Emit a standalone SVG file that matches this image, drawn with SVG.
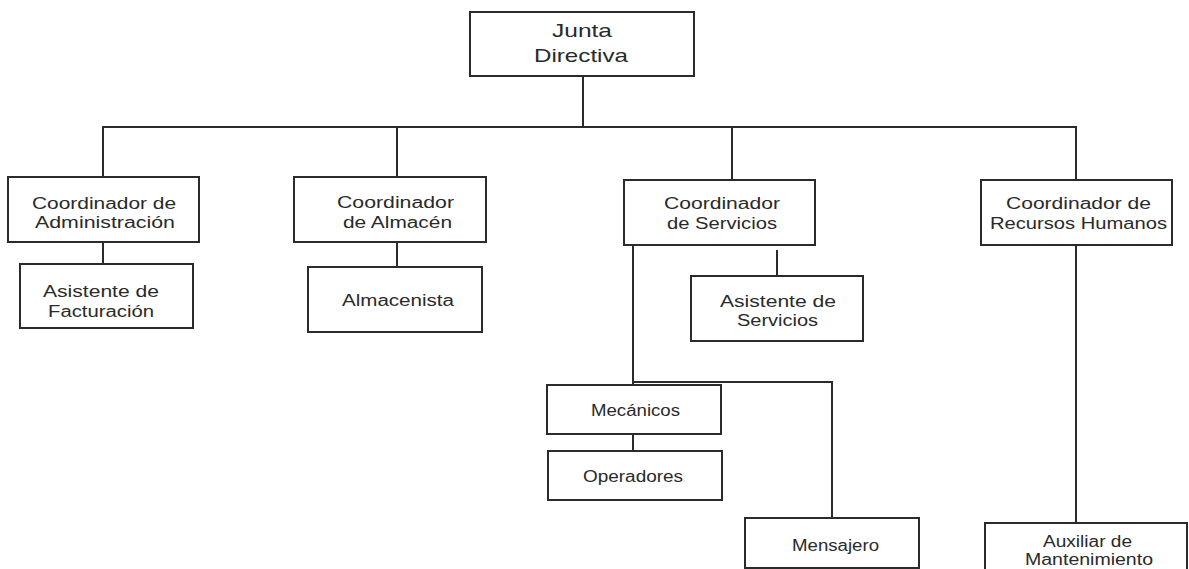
<svg xmlns="http://www.w3.org/2000/svg" width="1189" height="569" viewBox="0 0 1189 569">
<style>
.box{fill:#fff;stroke:#2b2b2b;stroke-width:2}
.ln{fill:none;stroke:#2b2b2b;stroke-width:2}
text{font-family:"Liberation Sans",Arial,sans-serif;font-size:16px;fill:#2a2a2a}
.big{font-size:19px}
</style>
<rect width="1189" height="569" fill="#fff"/>
<g id="connectors">
<path class="ln" d="M583,76 V127 M102,127 H1077 M103,127 V177 M397,127 V177 M732,127 V180 M1076,127 V180"/>
<path class="ln" d="M103,242 V264 M397,242 V267 M777,250 V276"/>
<path class="ln" d="M633,245 V385 M633,382 H832 V518 M633,434 V451"/>
<path class="ln" d="M1076,245 V523"/>
</g>
<g id="junta">
<rect class="box" x="470" y="12" width="224" height="64"/>
<text class="big" x="552" y="37" textLength="60" lengthAdjust="spacingAndGlyphs">Junta</text>
<text class="big" x="534" y="62" textLength="94" lengthAdjust="spacingAndGlyphs">Directiva</text>
</g>
<g id="coord-admin">
<rect class="box" x="8" y="177" width="191" height="65"/>
<text x="32" y="209" textLength="144" lengthAdjust="spacingAndGlyphs">Coordinador de</text>
<text x="35" y="228" textLength="140" lengthAdjust="spacingAndGlyphs">Administración</text>
</g>
<g id="asist-fact">
<rect class="box" x="20" y="264" width="173" height="64"/>
<text x="43" y="297" textLength="116" lengthAdjust="spacingAndGlyphs">Asistente de</text>
<text x="48" y="317" textLength="106" lengthAdjust="spacingAndGlyphs">Facturación</text>
</g>
<g id="coord-almacen">
<rect class="box" x="294" y="177" width="192" height="65"/>
<text x="337" y="208" textLength="117" lengthAdjust="spacingAndGlyphs">Coordinador</text>
<text x="343" y="228" textLength="109" lengthAdjust="spacingAndGlyphs">de Almacén</text>
</g>
<g id="almacenista">
<rect class="box" x="308" y="267" width="174" height="65"/>
<text x="342" y="306" textLength="112" lengthAdjust="spacingAndGlyphs">Almacenista</text>
</g>
<g id="coord-servicios">
<rect class="box" x="624" y="180" width="191" height="65"/>
<text x="664" y="209" textLength="116" lengthAdjust="spacingAndGlyphs">Coordinador</text>
<text x="667" y="229" textLength="110" lengthAdjust="spacingAndGlyphs">de Servicios</text>
</g>
<g id="asist-serv">
<rect class="box" x="691" y="276" width="172" height="65"/>
<text x="720" y="307" textLength="116" lengthAdjust="spacingAndGlyphs">Asistente de</text>
<text x="737" y="326" textLength="81" lengthAdjust="spacingAndGlyphs">Servicios</text>
</g>
<g id="coord-rrhh">
<rect class="box" x="981" y="180" width="191" height="65"/>
<text x="1006" y="209" textLength="145" lengthAdjust="spacingAndGlyphs">Coordinador de</text>
<text x="990" y="229" textLength="177" lengthAdjust="spacingAndGlyphs">Recursos Humanos</text>
</g>
<g id="mecanicos">
<rect class="box" x="547" y="385" width="174" height="49"/>
<text x="591" y="416" textLength="89" lengthAdjust="spacingAndGlyphs">Mecánicos</text>
</g>
<g id="operadores">
<rect class="box" x="548" y="451" width="174" height="49"/>
<text x="583" y="482" textLength="100" lengthAdjust="spacingAndGlyphs">Operadores</text>
</g>
<g id="mensajero">
<rect class="box" x="745" y="518" width="174" height="50"/>
<text x="792" y="551" textLength="87" lengthAdjust="spacingAndGlyphs">Mensajero</text>
</g>
<g id="auxiliar">
<rect class="box" x="985" y="523" width="202" height="60"/>
<text x="1043" y="547" textLength="89" lengthAdjust="spacingAndGlyphs">Auxiliar de</text>
<text x="1025" y="565" textLength="128" lengthAdjust="spacingAndGlyphs">Mantenimiento</text>
</g>
</svg>
